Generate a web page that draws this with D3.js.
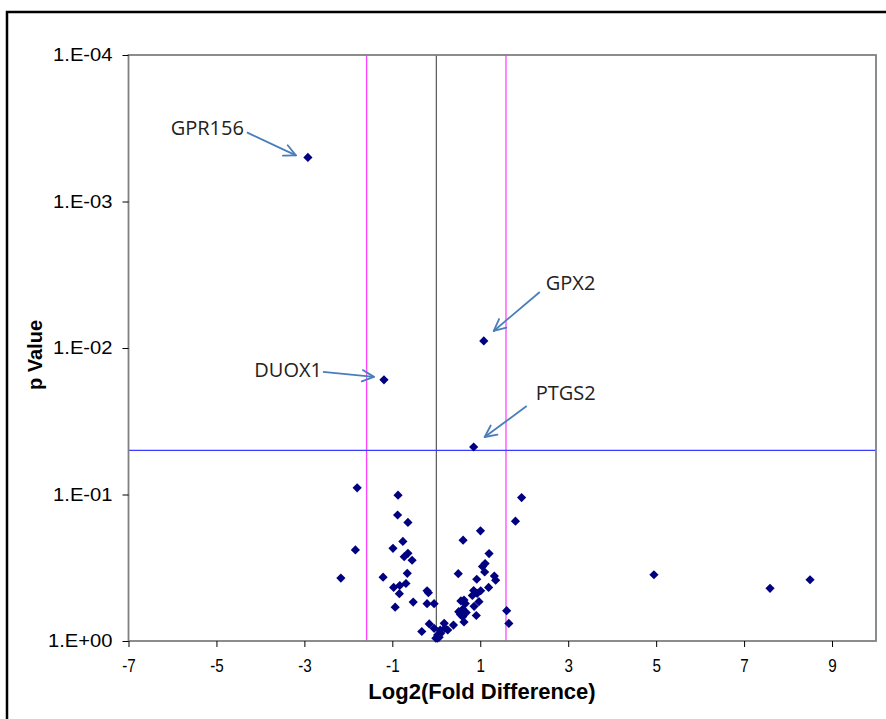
<!DOCTYPE html>
<html>
<head>
<meta charset="utf-8">
<script src="https://cdn.jsdelivr.net/npm/d3@7/dist/d3.min.js"></script>
<style>
  html, body { margin: 0; padding: 0; background: #fff; }
  svg { display: block; }
</style>
</head>
<body>
<svg id="chart" width="886" height="719"></svg>
<script>
// ---------------- DATA ----------------
const xTickValues = [-7, -5, -3, -1, 1, 3, 5, 7, 9];
const yTickValues = [1e-4, 1e-3, 1e-2, 1e-1, 1];
const yTickLabels = ["1.E-04", "1.E-03", "1.E-02", "1.E-01", "1.E+00"];

// log2 fold difference and p value of each gene
const log2Fold = [
  -2.92, -1.19, 1.08, 0.85,
  -1.80, -1.84, -2.17, -0.87, -0.88, -0.645, -0.76, -0.985, -0.645, -0.73, -0.55, -0.66,
  -1.21, -0.97, -0.83, -0.69, -0.84, -0.935, -0.525, -0.21, -0.18, -0.21, -0.05, -0.33,
  -0.16, -0.05, 0.03, -0.01, 0.065, 0.03, 0.09, 0.18, 0.195, 0.39, 0.10, 0.26,
  0.50, 0.61, 1.005, 0.92, 1.20, 1.05, 1.11, 1.10, 1.32, 1.35, 1.19, 0.85, 1.01, 0.82,
  0.93, 0.63, 0.66, 0.97, 0.86, 0.51, 0.60, 0.55, 0.60, 0.91, 0.63, 0.56, 0.68,
  1.60, 1.65, 1.80, 1.94, 4.95, 7.59, 8.50
];
const pValue = [
  0.0005, 0.0165, 0.00895, 0.0474,
  0.090, 0.239, 0.372, 0.101, 0.138, 0.155, 0.209, 0.233, 0.252, 0.266, 0.281, 0.345,
  0.367, 0.431, 0.418, 0.405, 0.475, 0.588, 0.542, 0.454, 0.468, 0.556, 0.556, 0.861,
  0.765, 0.819, 0.958, 0.958, 0.943, 0.910, 0.841, 0.757, 0.819, 0.778, 0.886, 0.841,
  0.347, 0.205, 0.177, 0.379, 0.253, 0.310, 0.296, 0.338, 0.360, 0.385, 0.431, 0.452, 0.454, 0.489,
  0.473, 0.525, 0.555, 0.539, 0.580, 0.631, 0.608, 0.659, 0.683, 0.670, 0.742, 0.533, 0.640,
  0.621, 0.759, 0.152, 0.105, 0.353, 0.437, 0.382
];
const geneNames = ["GPR156", "DUOX1", "GPX2", "PTGS2"];   // first four points

const foldCutoff = Math.log2(3);   // vertical magenta lines at +/- log2(3)
const pCutoff = 0.05;              // horizontal blue line

(function () {
// ---------------- LAYOUT ----------------
const svg = d3.select("#chart");
const mLeft = 128.5, mRight = 876, mTop = 55, mBottom = 641;

const x = d3.scaleLinear().domain([-7, 10]).range([mLeft, mRight]);
const y = d3.scaleLog().domain([1, 1e-4]).range([mBottom, mTop]);

function stretch(sel, factor) {
  sel.each(function () {
    const w = this.getComputedTextLength();
    d3.select(this).attr("textLength", w * factor).attr("lengthAdjust", "spacingAndGlyphs");
  });
}

// outer frame
svg.append("rect")
  .attr("x", 7).attr("y", 12).attr("width", 920).attr("height", 800)
  .attr("fill", "none").attr("stroke", "#000").attr("stroke-width", 2.5);

// reference lines
const g = svg.append("g");
g.append("line")
  .attr("x1", x(0)).attr("x2", x(0)).attr("y1", mTop).attr("y2", mBottom)
  .attr("stroke", "#333").attr("stroke-width", 1);
[-foldCutoff, foldCutoff].forEach(v => {
  g.append("line")
    .attr("x1", x(v)).attr("x2", x(v)).attr("y1", mTop).attr("y2", mBottom)
    .attr("stroke", "#ff44ff").attr("stroke-width", 1.3);
});
g.append("line")
  .attr("x1", mLeft).attr("x2", mRight).attr("y1", y(pCutoff)).attr("y2", y(pCutoff))
  .attr("stroke", "#3b3bff").attr("stroke-width", 1.2);

// plot border
svg.append("rect")
  .attr("x", mLeft).attr("y", mTop).attr("width", mRight - mLeft).attr("height", mBottom - mTop)
  .attr("fill", "none").attr("stroke", "#808080").attr("stroke-width", 1.8);

// axes
const xAxis = d3.axisBottom(x).tickValues(xTickValues).tickSize(6).tickSizeOuter(0)
  .tickFormat(d => String(d));
const xg = svg.append("g").attr("transform", `translate(0,${mBottom})`).call(xAxis);
xg.select(".domain").remove();
xg.selectAll(".tick line").attr("stroke", "#000");
xg.selectAll(".tick text")
  .attr("font-family", "Liberation Sans, Arial, sans-serif")
  .attr("font-size", 19).attr("fill", "#000").attr("y", 18).attr("dy", "0.71em")
  .call(stretch, 0.8);

const yAxis = d3.axisLeft(y).tickValues(yTickValues).tickSize(6).tickSizeOuter(0)
  .tickFormat((d, i) => yTickLabels[i]);
const yg = svg.append("g").attr("transform", `translate(${mLeft},0)`).call(yAxis);
yg.select(".domain").remove();
yg.selectAll(".tick line").attr("stroke", "#000");
yg.selectAll(".tick text")
  .attr("font-family", "Liberation Sans, Arial, sans-serif")
  .attr("font-size", 18).attr("fill", "#000").attr("x", -16)
  .call(stretch, 1.12);

// axis titles
svg.append("text")
  .attr("x", 482).attr("y", 699).attr("text-anchor", "middle")
  .attr("font-family", "Liberation Sans, Arial, sans-serif")
  .attr("font-weight", "bold").attr("font-size", 22).attr("fill", "#000")
  .text("Log2(Fold Difference)");
svg.append("text")
  .attr("transform", "translate(42,355) rotate(-90)").attr("text-anchor", "middle")
  .attr("font-family", "Liberation Sans, Arial, sans-serif")
  .attr("font-weight", "bold").attr("font-size", 20).attr("fill", "#000")
  .text("p Value");

// points
const points = log2Fold.map((v, i) => ({ fold: v, p: pValue[i] }));
const diamond = "M0,-4.6L4.6,0L0,4.6L-4.6,0Z";
svg.append("g").selectAll("path").data(points).join("path")
  .attr("d", diamond)
  .attr("transform", d => `translate(${x(d.fold)},${y(d.p)})`)
  .attr("fill", "#000080");

// annotations (offsets relative to the marked point)
const annot = {
  GPR156: { lx: -64, ly: -22, anchor: "end",   a0: [-61, -25], a1: [-12, -2] },
  DUOX1:  { lx: -62, ly: -3,  anchor: "end",   a0: [-61, -8],  a1: [-10, -3] },
  GPX2:   { lx: 62,  ly: -51, anchor: "start", a0: [56, -49],  a1: [10, -10] },
  PTGS2:  { lx: 62,  ly: -47, anchor: "start", a0: [53, -41],  a1: [11, -10] }
};
const arrowColor = "#4a7ebb";
geneNames.forEach((name, i) => {
  const px = x(log2Fold[i]), py = y(pValue[i]);
  const a = annot[name];
  svg.append("text")
    .attr("x", px + a.lx).attr("y", py + a.ly).attr("text-anchor", a.anchor)
    .attr("font-family", "Open Sans, Noto Sans, sans-serif")
    .attr("font-size", 20).attr("fill", "#222").text(name);
  const x0 = px + a.a0[0], y0 = py + a.a0[1], x1 = px + a.a1[0], y1 = py + a.a1[1];
  svg.append("line").attr("x1", x0).attr("y1", y0).attr("x2", x1).attr("y2", y1)
    .attr("stroke", arrowColor).attr("stroke-width", 1.8);
  const ang = Math.atan2(y1 - y0, x1 - x0), L = 13, spread = 0.45;
  [ang + Math.PI - spread, ang + Math.PI + spread].forEach(t => {
    svg.append("line").attr("x1", x1).attr("y1", y1)
      .attr("x2", x1 + L * Math.cos(t)).attr("y2", y1 + L * Math.sin(t))
      .attr("stroke", arrowColor).attr("stroke-width", 1.8).attr("stroke-linecap", "round");
  });
});
})();
</script>
</body>
</html>
